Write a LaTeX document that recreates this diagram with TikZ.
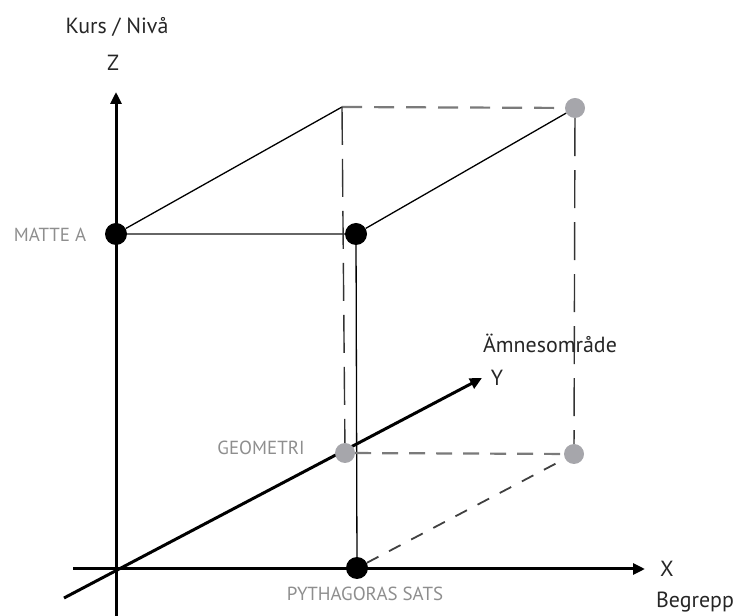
\documentclass[tikz,border=0pt]{standalone}
\usepackage{fontspec}
\setmainfont{PT Sans}
\usetikzlibrary{arrows.meta}

\definecolor{dotgray}{HTML}{A6A6AB}
\definecolor{labelgray}{HTML}{8E8E8E}
\definecolor{dashgray}{HTML}{7A7A7A}

\begin{document}
\begin{tikzpicture}[x=1bp, y=1bp, >={Triangle[length=12bp,width=11bp]},
  axis/.style={line width=3bp, ->},
  dot/.style={circle, fill=black, inner sep=0pt, minimum size=22bp},
  greydot/.style={circle, fill=dotgray, inner sep=0pt, minimum size=20bp},
  axislabel/.style={font=\fontsize{22}{26}\selectfont, text=black!85},
  pointlabel/.style={font=\fontsize{19}{22}\selectfont, text=labelgray},
  edge/.style={line width=1.3bp},
  hidden/.style={line width=2.2bp, dashgray, dash pattern=on 20bp off 12bp},
  hiddenv/.style={line width=1.4bp, black!80, dash pattern=on 38bp off 14bp}]
  \useasboundingbox (0bp, 0bp) rectangle (739bp, 616bp);

  % Axes
  \coordinate (zbot) at (116bp, 0bp);
  \coordinate (ztop) at (116bp, 524bp);
  \coordinate (xbot) at (73bp, 47bp);
  \coordinate (xtop) at (645bp, 47bp);
  \coordinate (ybot) at (64bp, 18bp);
  \coordinate (ytop) at (482bp, 238bp);

  \draw[axis] (zbot) -- (ztop);
  \draw[axis] (xbot) -- (xtop);
  \draw[axis] (ybot) -- (ytop);

  % Points
  \coordinate (backtl) at (342bp, 509bp);
  \node (mattea) at (116bp, 382bp) [dot] {};
  \node (front) at (356bp, 382bp) [dot] {};
  \node (pyth) at (357bp, 48bp) [dot] {};
  \node (backtr) at (575bp, 508bp) [greydot] {};
  \node (geometri) at (345bp, 163bp) [greydot] {};
  \node (backbr) at (574bp, 162bp) [greydot] {};

  % Edges
  \draw[edge, black!60, line width=2bp] (mattea) -- (front);
  \draw[edge] (mattea) -- (backtl);
  \draw[edge] (front) -- (backtr);
  \draw[edge] (front) -- (pyth);
  \draw[hidden] (backtl) -- (backtr);
  \draw[hiddenv] (backtl) -- (geometri);
  \draw[hiddenv] (backtr) -- (backbr);
  \draw[hidden, dash pattern=on 16bp off 11bp] (geometri) -- (backbr);
  \draw[hidden, black!75, line width=1.8bp, dash pattern=on 13bp off 12bp] (pyth) -- (backbr);

  % Labels
  \node (kurs) at (117bp, 589bp) [axislabel] {Kurs / Nivå};
  \node (zlab) at (113bp, 553bp) [axislabel] {Z};
  \node (ylab) at (497bp, 238bp) [axislabel] {Y};
  \node (xlab) at (667bp, 47bp) [axislabel] {X};
  \node (amne) at (550bp, 273bp) [axislabel] {Ämnesområde};
  \node (begrepp) at (695bp, 14bp) [axislabel] {Begrepp};

  \node (matteatext) at (50bp, 381bp) [pointlabel] {MATTE A};
  \node (geotext) at (261bp, 168bp) [pointlabel] {GEOMETRI};
  \node (pythtext) at (365bp, 22bp) [pointlabel] {PYTHAGORAS SATS};
\end{tikzpicture}
\end{document}
